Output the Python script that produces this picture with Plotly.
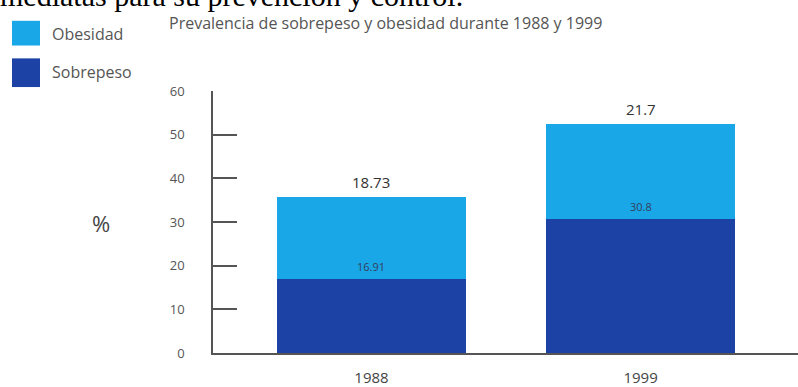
import plotly.graph_objects as go

years = ["1988", "1999"]
sobrepeso = [16.91, 30.8]
obesidad = [18.73, 21.7]
sobrepeso_labels = ["16.91", "30.8"]
obesidad_labels = ["18.73", "21.7"]
y_ticks = [0, 10, 20, 30, 40, 50, 60]

W, H = 798, 387
L, R, T, B = 213, 0, 91, 31
PW, PH = W - L - R, H - T - B

def px(x):
    return (x - L) / PW

def py(y):
    return (H - B - y) / PH

dark = "#1c42a6"
light = "#1aa7e8"

fig = go.Figure()
fig.add_trace(go.Bar(x=years, y=sobrepeso, name="Sobrepeso", marker=dict(color=dark, line=dict(width=0)),
                     width=0.70, showlegend=False))
fig.add_trace(go.Bar(x=years, y=obesidad, name="Obesidad", marker=dict(color=light, line=dict(width=0)),
                     width=0.70, showlegend=False))

annotations = []
for i, yr in enumerate(years):
    total = sobrepeso[i] + obesidad[i]
    # category axis: position by index so "1988" is not read as serial number
    annotations.append(dict(x=i, y=total, xref="x", yref="y", text=obesidad_labels[i], showarrow=False,
                            yanchor="bottom", yshift=3, font=dict(family="Open Sans", size=15, color="#333")))
    annotations.append(dict(x=i, y=sobrepeso[i], xref="x", yref="y", text=sobrepeso_labels[i], showarrow=False,
                            yanchor="bottom", yshift=3, font=dict(family="Open Sans", size=11, color="#33405a")))

# title
annotations.append(dict(x=px(167), y=py(22), xref="paper", yref="paper", xanchor="left", yanchor="middle",
                        text="Prevalencia de sobrepeso y obesidad durante 1988 y 1999", showarrow=False,
                        font=dict(family="Open Sans", size=16, color="#555")))
# cut-off text at top
annotations.append(dict(x=px(-2), y=py(13), xref="paper", yref="paper", xanchor="left", yanchor="bottom",
                        text="mediatas para su prevención y control.", showarrow=False,
                        font=dict(family="Liberation Serif", size=30, color="#000")))
# percent label
annotations.append(dict(x=px(101), y=py(225), xref="paper", yref="paper", xanchor="center", yanchor="middle",
                        text="%", showarrow=False, font=dict(family="Open Sans", size=22, color="#444")))
# legend text
annotations.append(dict(x=px(50), y=py(33), xref="paper", yref="paper", xanchor="left", yanchor="middle",
                        text="Obesidad", showarrow=False, font=dict(family="Open Sans", size=16, color="#555")))
annotations.append(dict(x=px(50), y=py(72), xref="paper", yref="paper", xanchor="left", yanchor="middle",
                        text="Sobrepeso", showarrow=False, font=dict(family="Open Sans", size=16, color="#555")))

shapes = [
    dict(type="rect", xref="paper", yref="paper", x0=px(12), x1=px(40), y0=py(45), y1=py(20),
         fillcolor=light, line=dict(width=0)),
    dict(type="rect", xref="paper", yref="paper", x0=px(12), x1=px(40), y0=py(87), y1=py(58),
         fillcolor=dark, line=dict(width=0)),
]

fig.update_layout(
    width=W, height=H, margin=dict(l=L, r=R, t=T, b=B),
    barmode="stack", bargap=0.3,
    paper_bgcolor="white", plot_bgcolor="white",
    annotations=annotations, shapes=shapes,
    xaxis=dict(type="category", range=[-0.589, 1.585], showgrid=False, showline=True, linecolor="#555",
               linewidth=1.5, ticks="", tickfont=dict(family="Open Sans", size=15, color="#444"),
               ticklabelstandoff=10),
    yaxis=dict(range=[0, 60], tickvals=y_ticks, showgrid=False, zeroline=False, showline=True,
               linecolor="#555", linewidth=1.5, ticks="inside", ticklen=24, tickwidth=1.5, tickcolor="#555",
               tickfont=dict(family="Open Sans", size=13, color="#555"), ticklabelstandoff=24),
)

fig.write_html("out.html")
